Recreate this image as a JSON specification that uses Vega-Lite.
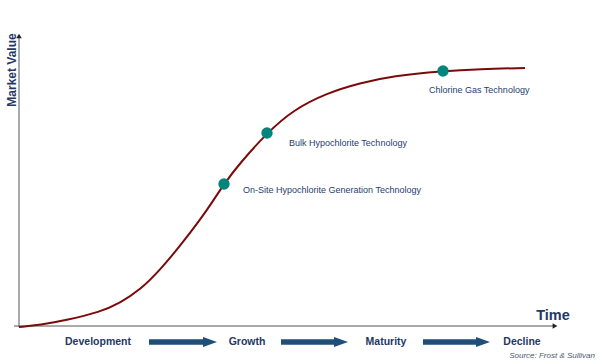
{
  "$schema": "https://vega.github.io/schema/vega-lite/v6.json",
  "width": 600,
  "height": 360,
  "padding": 0,
  "autosize": {"type": "fit", "contains": "padding"},
  "background": "white",
  "config": {"view": {"stroke": null}},
  "datasets": {
    "curve": [
      {"x": 19, "y": 33}, {"x": 40, "y": 35}, {"x": 67, "y": 40}, {"x": 100, "y": 48},
      {"x": 120, "y": 57}, {"x": 140, "y": 70}, {"x": 160, "y": 90}, {"x": 180, "y": 114},
      {"x": 200, "y": 140}, {"x": 213, "y": 159}, {"x": 224, "y": 176}, {"x": 240, "y": 197},
      {"x": 267, "y": 227}, {"x": 293, "y": 250}, {"x": 327, "y": 267}, {"x": 360, "y": 277},
      {"x": 393, "y": 284}, {"x": 443, "y": 289}, {"x": 480, "y": 291}, {"x": 525, "y": 292}
    ],
    "tech": [
      {"x": 224, "y": 176, "lx": 243, "ly": 170, "label": "On-Site Hypochlorite Generation Technology"},
      {"x": 267, "y": 227, "lx": 289, "ly": 217, "label": "Bulk Hypochlorite Technology"},
      {"x": 443, "y": 289, "lx": 429, "ly": 270, "label": "Chlorine Gas Technology"}
    ],
    "stages": [
      {"x": 98, "y": 18, "stage": "Development"},
      {"x": 247, "y": 18, "stage": "Growth"},
      {"x": 386, "y": 18, "stage": "Maturity"},
      {"x": 522, "y": 18, "stage": "Decline"}
    ],
    "arrows": [
      {"x": 149, "x2": 204, "hx": 210, "y": 18},
      {"x": 281, "x2": 335, "hx": 341, "y": 18},
      {"x": 423, "x2": 477, "hx": 483, "y": 18}
    ]
  },
  "encoding": {
    "x": {"type": "quantitative", "scale": {"domain": [0, 600], "nice": false, "zero": false}, "axis": null},
    "y": {"type": "quantitative", "scale": {"domain": [0, 360], "nice": false, "zero": false}, "axis": null}
  },
  "layer": [
    {
      "data": {"values": [{"x": 19, "y": 33, "y2": 322}]},
      "mark": {"type": "rule", "color": "#555555", "strokeWidth": 1},
      "encoding": {"x": {"field": "x"}, "y": {"field": "y"}, "y2": {"field": "y2"}}
    },
    {
      "data": {"values": [{"x": 19, "y": 324}]},
      "mark": {"type": "point", "shape": "triangle-up", "filled": true, "size": 30, "color": "#222222", "opacity": 1},
      "encoding": {"x": {"field": "x"}, "y": {"field": "y"}}
    },
    {
      "data": {"values": [{"x": 14, "x2": 553, "y": 34}]},
      "mark": {"type": "rule", "color": "#555555", "strokeWidth": 1},
      "encoding": {"x": {"field": "x"}, "x2": {"field": "x2"}, "y": {"field": "y"}}
    },
    {
      "data": {"values": [{"x": 555, "y": 34}]},
      "mark": {"type": "point", "shape": "triangle-right", "filled": true, "size": 30, "color": "#222222", "opacity": 1},
      "encoding": {"x": {"field": "x"}, "y": {"field": "y"}}
    },
    {
      "data": {"name": "curve"},
      "mark": {"type": "line", "color": "#7b0a0a", "strokeWidth": 2, "interpolate": "basis"},
      "encoding": {"x": {"field": "x"}, "y": {"field": "y"}}
    },
    {
      "data": {"name": "tech"},
      "mark": {"type": "point", "shape": "circle", "filled": true, "size": 130, "color": "#00857d", "opacity": 1},
      "encoding": {"x": {"field": "x"}, "y": {"field": "y"}}
    },
    {
      "data": {"name": "tech"},
      "mark": {"type": "text", "align": "left", "baseline": "middle", "font": "Liberation Sans", "fontSize": 9, "color": "#1f3d6e"},
      "encoding": {"x": {"field": "lx"}, "y": {"field": "ly"}, "text": {"field": "label"}}
    },
    {
      "data": {"name": "stages"},
      "mark": {"type": "text", "align": "center", "baseline": "middle", "font": "Liberation Sans", "fontSize": 10.5, "fontWeight": "bold", "color": "#1f3864"},
      "encoding": {"x": {"field": "x"}, "y": {"field": "y"}, "text": {"field": "stage"}}
    },
    {
      "data": {"name": "arrows"},
      "mark": {"type": "rule", "color": "#1f4e79", "strokeWidth": 5.5},
      "encoding": {"x": {"field": "x"}, "x2": {"field": "x2"}, "y": {"field": "y"}}
    },
    {
      "data": {"name": "arrows"},
      "mark": {"type": "point", "shape": "M -1 -0.7 L 1 0 L -1 0.7 Z", "filled": true, "size": 196, "color": "#1f4e79", "opacity": 1, "strokeWidth": 0},
      "encoding": {"x": {"field": "hx"}, "y": {"field": "y"}}
    },
    {
      "data": {"values": [{"x": 553, "y": 44, "t": "Time"}]},
      "mark": {"type": "text", "align": "center", "baseline": "middle", "font": "Liberation Sans", "fontSize": 14.5, "fontWeight": "bold", "color": "#1f3864"},
      "encoding": {"x": {"field": "x"}, "y": {"field": "y"}, "text": {"field": "t"}}
    },
    {
      "data": {"values": [{"x": 12, "y": 290, "t": "Market Value"}]},
      "mark": {"type": "text", "align": "center", "baseline": "middle", "angle": 270, "font": "Liberation Sans", "fontSize": 12, "fontWeight": "bold", "color": "#1f3864"},
      "encoding": {"x": {"field": "x"}, "y": {"field": "y"}, "text": {"field": "t"}}
    },
    {
      "data": {"values": [{"x": 595, "y": 4, "t": "Source: Frost & Sullivan"}]},
      "mark": {"type": "text", "align": "right", "baseline": "middle", "font": "Liberation Sans", "fontSize": 8, "fontStyle": "italic", "color": "#4a5a70"},
      "encoding": {"x": {"field": "x"}, "y": {"field": "y"}, "text": {"field": "t"}}
    }
  ]
}
